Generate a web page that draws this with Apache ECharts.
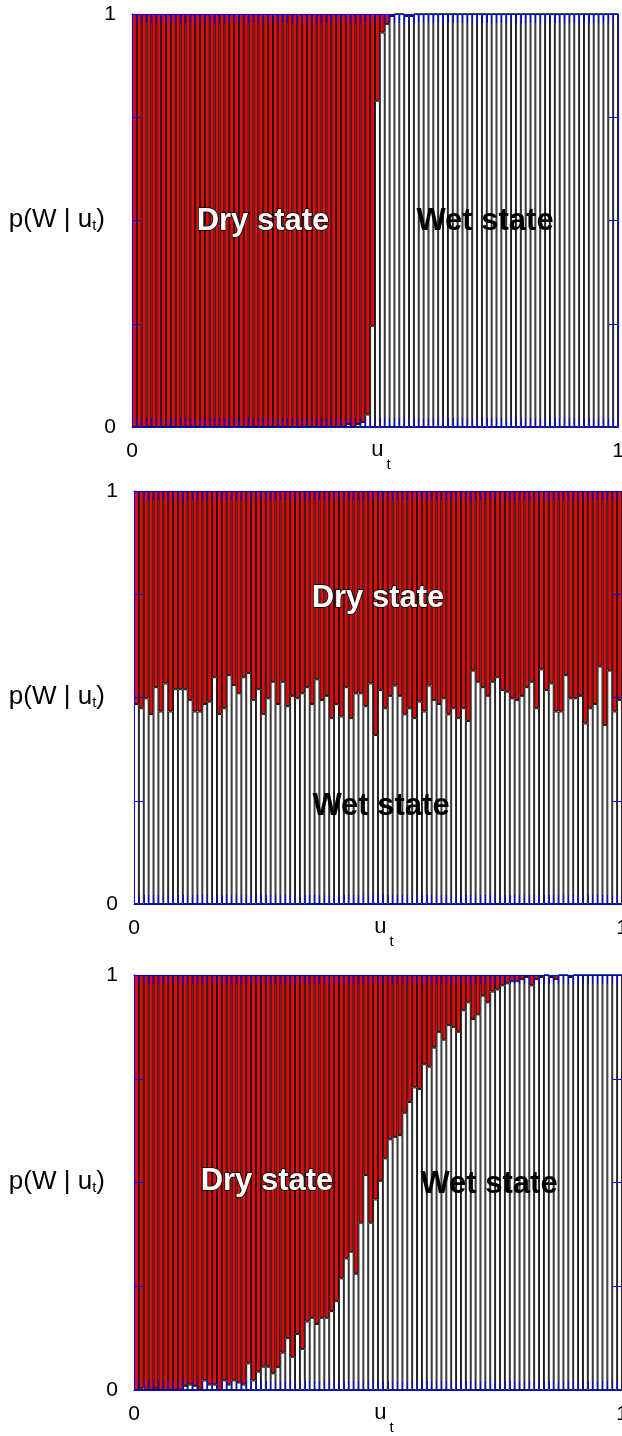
<!DOCTYPE html>
<html><head><meta charset="utf-8">
<script src="https://cdn.jsdelivr.net/npm/echarts@6/dist/echarts.min.js"></script>
<style>html,body{margin:0;padding:0;background:#fff;overflow:hidden}#c{width:622px;height:1436px}</style>
</head><body><div id="c"></div>
<script>
// bin centres of u_t (100 bins over [0,1])
const binLabels = Array.from({length: 100}, (_, i) => ((i + 0.5) / 100).toFixed(3));
const yTickLabels = ['0', '1'];
const xTickLabels = ['0', '1'];

// p(W | u_t) per bin
const panel1Wet = [
  0,0,0,0,0,0,0,0,0,0,
  0,0,0,0,0,0,0,0,0,0,
  0,0,0,0,0,0,0,0,0,0,
  0,0,0,0,0,0,0,0,0,0,
  0,0,0,0,0.007,0,0.007,0.012,0.03,0.245,
  0.79,0.955,0.976,0.995,1,1,0.995,0.995,1,1,
  1,1,1,1,1,1,1,1,1,1,
  1,1,1,1,1,1,1,1,1,1,
  1,1,1,1,1,1,1,1,1,1,
  1,1,1,1,1,1,1,1,1,1
];
const panel2Wet = [
  0.484,0.474,0.498,0.460,0.525,0.466,0.534,0.466,0.520,0.520,
  0.520,0.494,0.466,0.466,0.484,0.490,0.549,0.460,0.474,0.554,
  0.530,0.510,0.549,0.559,0.494,0.520,0.460,0.498,0.538,0.484,
  0.538,0.479,0.504,0.498,0.510,0.525,0.484,0.544,0.494,0.504,
  0.450,0.484,0.454,0.525,0.450,0.510,0.510,0.479,0.534,0.409,
  0.518,0.474,0.504,0.529,0.504,0.459,0.474,0.450,0.490,0.466,
  0.529,0.494,0.484,0.498,0.459,0.474,0.450,0.474,0.443,0.565,
  0.538,0.525,0.504,0.538,0.549,0.518,0.514,0.498,0.494,0.504,
  0.525,0.538,0.474,0.568,0.518,0.534,0.466,0.466,0.554,0.498,
  0.498,0.504,0.437,0.474,0.484,0.575,0.433,0.565,0.466,0.494
];
const panel3Wet = [
  0,0.004,0,0,0.004,0,0,0,0,0,
  0.010,0.013,0.010,0,0.023,0.013,0.013,0,0.023,0.013,
  0.023,0.018,0.013,0.064,0.023,0.044,0.056,0.056,0.040,0.055,
  0.090,0.125,0.080,0.135,0.099,0.165,0.174,0.159,0.174,0.174,
  0.190,0.214,0.269,0.317,0.333,0.280,0.403,0.518,0.403,0.459,
  0.504,0.558,0.604,0.610,0.614,0.668,0.694,0.729,0.725,0.785,
  0.779,0.825,0.863,0.844,0.879,0.875,0.863,0.915,0.934,0.894,
  0.905,0.950,0.934,0.960,0.965,0.975,0.980,0.985,0.985,0.990,
  0.995,0.975,0.990,0.995,1,0.995,0.990,1,1,0.995,
  1,1,1,1,1,1,1,1,1,1
];

const panelsWet = [panel1Wet, panel2Wet, panel3Wet];
const gridBoxes = [
  {left: 132, top: 14, width: 486, height: 413},
  {left: 134, top: 491, width: 488, height: 413},
  {left: 134, top: 975, width: 488, height: 415}
];
const labelPos = [
  {dry: [263, 221], wet: [485, 221]},
  {dry: [378, 598], wet: [381, 806]},
  {dry: [267, 1181], wet: [489, 1184]}
];

const FONT = '"Liberation Sans", Arial, Helvetica, sans-serif';
const BLUE = '#0000ff';
const RED = '#e00c0c';

const xAxes = [], yAxes = [], series = [], graphics = [];
gridBoxes.forEach((g, k) => {
  const catAxis = (pos) => ({
    type: 'category', gridIndex: k, data: binLabels, position: pos, z: 10,
    axisLine: {show: true, onZero: false, lineStyle: {color: BLUE, width: 1}},
    axisTick: {show: true, inside: true, length: 9, interval: 0, lineStyle: {color: BLUE, width: 1}},
    axisLabel: {show: false}, splitLine: {show: false}
  });
  xAxes.push(catAxis('bottom'), catAxis('top'));
  xAxes.push({
    type: 'value', gridIndex: k, position: 'bottom', min: 0, max: 1, interval: 1, z: 10,
    axisLine: {show: false}, axisTick: {show: false}, splitLine: {show: false},
    axisLabel: {fontSize: 21, color: '#000', fontFamily: FONT, margin: 14,
      formatter: v => v === 0 ? xTickLabels[0] : (v === 1 ? xTickLabels[1] : '')}
  });
  const valAxis = (pos, labels) => ({
    type: 'value', gridIndex: k, position: pos, min: 0, max: 1, interval: 0.25, z: 10,
    axisLine: {show: true, onZero: false, lineStyle: {color: BLUE, width: 1}},
    axisTick: {show: true, inside: true, length: 9, lineStyle: {color: BLUE, width: 1}},
    splitLine: {show: false},
    axisLabel: {show: labels, fontSize: 21, color: '#000', fontFamily: FONT, margin: 16,
      padding: [5, 0, 0, 0],
      formatter: v => v === 0 ? yTickLabels[0] : (v === 1 ? yTickLabels[1] : '')}
  });
  yAxes.push(valAxis('left', true), valAxis('right', false));

  const wet = panelsWet[k];
  series.push({
    type: 'bar', xAxisIndex: 3 * k, yAxisIndex: 2 * k, stack: 'p' + k, data: wet,
    barCategoryGap: '0%', silent: true,
    itemStyle: {color: '#ffffff', borderColor: '#000', borderWidth: 0.9}
  });
  series.push({
    type: 'bar', xAxisIndex: 3 * k, yAxisIndex: 2 * k, stack: 'p' + k,
    data: wet.map(v => +(1 - v).toFixed(4)),
    barCategoryGap: '0%', silent: true,
    itemStyle: {color: RED, borderColor: '#000', borderWidth: 0.9}
  });

  const midY = g.top + g.height / 2;
  // y-axis title p(W | u_t)
  graphics.push({
    type: 'text', x: 105, y: midY + 1, z: 20,
    style: {
      text: '{a|p(W | u}{s|t}{a|)}', align: 'right', verticalAlign: 'middle',
      rich: {
        a: {fontSize: 26, fontFamily: FONT, fill: '#000', lineHeight: 30, verticalAlign: 'top'},
        s: {fontSize: 15, fontFamily: FONT, fill: '#000', lineHeight: 30, verticalAlign: 'top', padding: [12, 0, 0, 0]}
      }
    }
  });
  // x-axis title u_t
  graphics.push({
    type: 'text', x: g.left + g.width / 2 + 6, y: g.top + g.height + 12, z: 20,
    style: {
      text: '{a|u}{s|t}', align: 'center', verticalAlign: 'top',
      rich: {
        a: {fontSize: 22, fontFamily: FONT, fill: '#000', lineHeight: 36, verticalAlign: 'top'},
        s: {fontSize: 15, fontFamily: FONT, fill: '#000', lineHeight: 36, verticalAlign: 'top', padding: [18, 0, 0, 3]}
      }
    }
  });
  const lp = labelPos[k];
  graphics.push({
    type: 'text', x: lp.dry[0], y: lp.dry[1], z: 20,
    style: {text: 'Dry state', font: 'bold 31px ' + FONT, fill: '#ffffff', stroke: '#000', lineWidth: 1.5,
      align: 'center', verticalAlign: 'middle'}
  });
  graphics.push({
    type: 'text', x: lp.wet[0], y: lp.wet[1], z: 20,
    style: {text: 'Wet state', font: 'bold 31px ' + FONT, fill: '#000',
      align: 'center', verticalAlign: 'middle'}
  });
});

const chart = echarts.init(document.getElementById('c'), null, {renderer: 'canvas'});
chart.setOption({
  animation: false,
  backgroundColor: '#ffffff',
  grid: gridBoxes.map(g => Object.assign({outerBoundsMode: 'none', containLabel: false}, g)),
  xAxis: xAxes,
  yAxis: yAxes,
  series: series,
  graphic: graphics
});
</script>
</body></html>
